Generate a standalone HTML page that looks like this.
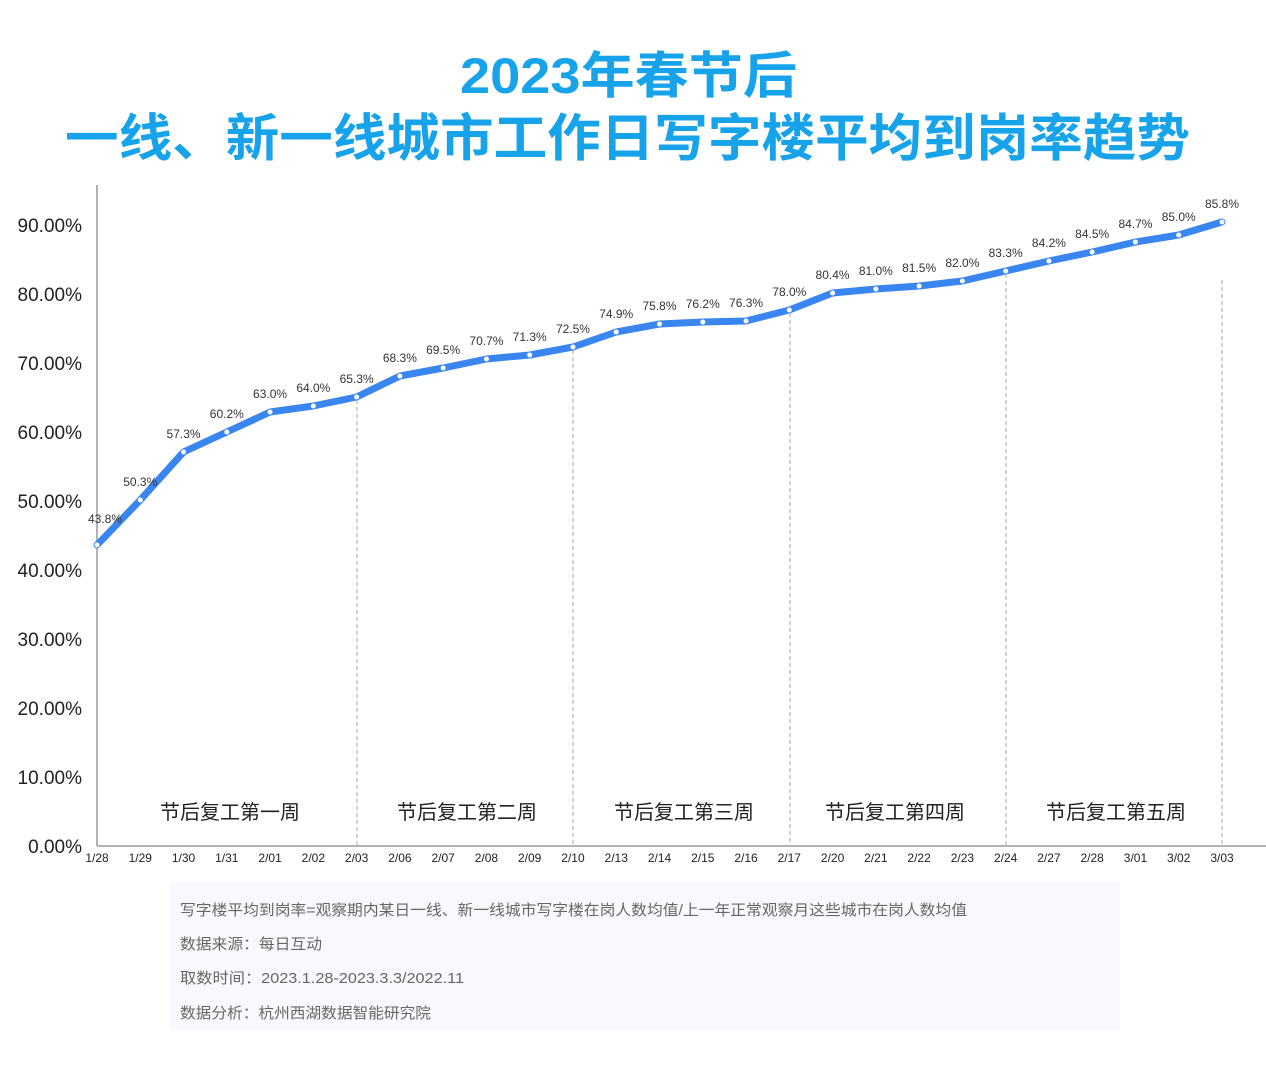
<!DOCTYPE html>
<html><head><meta charset="utf-8"><style>
body{margin:0;background:#fff;width:1266px;height:1065px;overflow:hidden;font-family:"Liberation Sans","Noto Sans CJK SC",sans-serif}
</style></head><body>
<svg width="1266" height="1065" xmlns="http://www.w3.org/2000/svg" font-family="Liberation Sans, Noto Sans CJK SC, sans-serif">
<text x="460" y="93" textLength="337" lengthAdjust="spacingAndGlyphs" font-size="50" font-weight="bold" fill="#17a3ea">2023年春节后</text>
<text x="65" y="156" textLength="1125" lengthAdjust="spacingAndGlyphs" font-size="51" font-weight="bold" fill="#17a3ea">一线、新一线城市工作日写字楼平均到岗率趋势</text>
<line x1="97" y1="185" x2="97" y2="846" stroke="#999" stroke-width="1.5"/>
<line x1="97" y1="846" x2="1266" y2="846" stroke="#999" stroke-width="1.5"/>
<g font-size="19" fill="#222" text-anchor="end">
<text x="82" y="853">0.00%</text><text x="82" y="784">10.00%</text><text x="82" y="715">20.00%</text><text x="82" y="646">30.00%</text><text x="82" y="577">40.00%</text><text x="82" y="508">50.00%</text><text x="82" y="439">60.00%</text><text x="82" y="370">70.00%</text><text x="82" y="301">80.00%</text><text x="82" y="232">90.00%</text>
</g>
<g stroke="#aaa" stroke-dasharray="4,3" stroke-width="1">
<line x1="357" y1="400" x2="357" y2="846"/><line x1="573" y1="350" x2="573" y2="846"/><line x1="790" y1="313" x2="790" y2="846"/><line x1="1006" y1="274" x2="1006" y2="846"/><line x1="1222" y1="280" x2="1222" y2="846"/>
</g>
<g font-size="20" fill="#222" text-anchor="middle">
<text x="230" y="819">节后复工第一周</text><text x="467" y="819">节后复工第二周</text><text x="684" y="819">节后复工第三周</text><text x="895" y="819">节后复工第四周</text><text x="1116" y="819">节后复工第五周</text>
</g>
<g id="plot"></g>
<rect x="170" y="882" width="950" height="148" fill="#f7f9fc"/>
<g font-size="15" fill="#666">
<text x="180" y="915" textLength="787" lengthAdjust="spacingAndGlyphs">写字楼平均到岗率=观察期内某日一线、新一线城市写字楼在岗人数均值/上一年正常观察月这些城市在岗人数均值</text>
<text x="180" y="949" textLength="142" lengthAdjust="spacingAndGlyphs">数据来源：每日互动</text>
<text x="180" y="983" textLength="284" lengthAdjust="spacingAndGlyphs">取数时间：2023.1.28-2023.3.3/2022.11</text>
<text x="180" y="1018" textLength="251" lengthAdjust="spacingAndGlyphs">数据分析：杭州西湖数据智能研究院</text>
</g>
</svg>
<script>
var L=["1/28","1/29","1/30","1/31","2/01","2/02","2/03","2/06","2/07","2/08","2/09","2/10","2/13","2/14","2/15","2/16","2/17","2/20","2/21","2/22","2/23","2/24","2/27","2/28","3/01","3/02","3/03"];
var Y=[545,500,452,432,412,406,397,376,368,359,355,347,332,324,322,321,310,293,289,286,281,271,261,252,242,235,222];
var V=["43.8%","50.3%","57.3%","60.2%","63.0%","64.0%","65.3%","68.3%","69.5%","70.7%","71.3%","72.5%","74.9%","75.8%","76.2%","76.3%","78.0%","80.4%","81.0%","81.5%","82.0%","83.3%","84.2%","84.5%","84.7%","85.0%","85.8%"];
var g=document.getElementById('plot'),h="",pts=[];
for(var i=0;i<27;i++){var x=97+i*1125/26;pts.push(x.toFixed(1)+","+Y[i]);
h+='<text x="'+x+'" y="862" font-size="12" fill="#222" text-anchor="middle">'+L[i]+'</text>';
h+='<text x="'+(x+(i==0?8:0))+'" y="'+(Y[i]-(i==0?22:14))+'" font-size="12" fill="#333" text-anchor="middle">'+V[i]+'</text>';}
h='<polyline points="'+pts.join(" ")+'" fill="none" stroke="#3a86f0" stroke-width="7" stroke-linejoin="round" stroke-linecap="round"/>'+h;
for(var i=0;i<27;i++){var x=97+i*1125/26;h+='<circle cx="'+x+'" cy="'+Y[i]+'" r="2.5" fill="#fff"/>';}
g.innerHTML=h;
</script>
</body></html>
